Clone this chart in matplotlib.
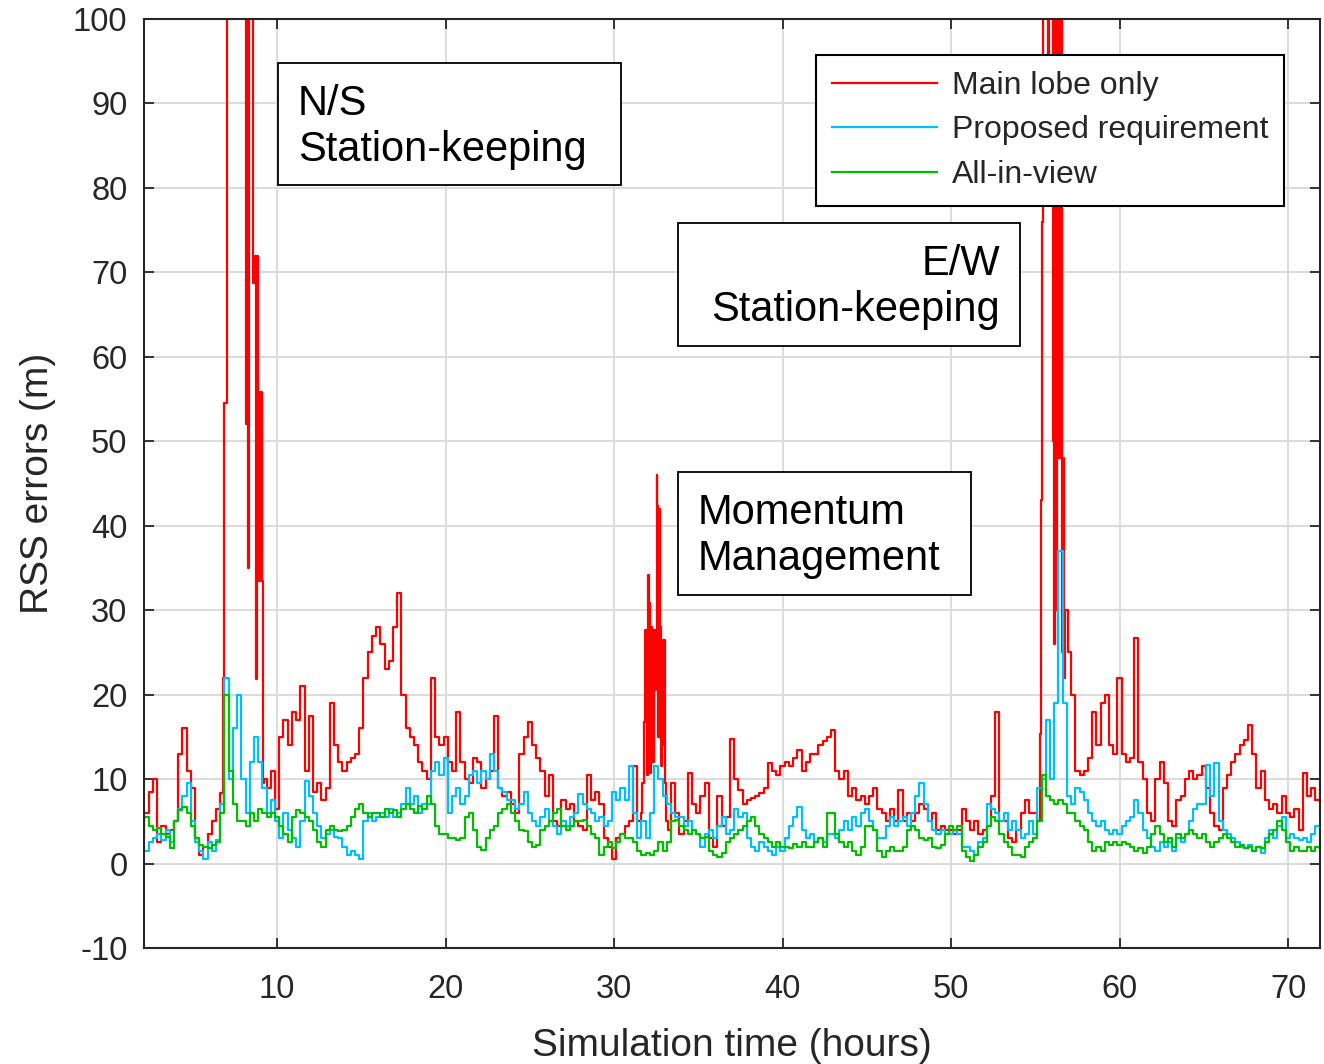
import matplotlib.pyplot as plt
from matplotlib.patches import Rectangle
import numpy as np

plt.rcParams['font.family'] = ['Liberation Sans', 'DejaVu Sans']
plt.rcParams['axes.unicode_minus'] = False

nan = np.nan

# 15-minute samples, 2 h .. 72 h
hours = np.arange(2.0, 72.01, 0.25)

# Main lobe only (outside the manoeuvre windows; nan = see spike arrays)
red_base = [
    3, 6, 8.5, 10,        # 2
    2.5, 4.5, 3.5, 4,     # 3
    5, 13, 16, 11,        # 4
    9, 3, 1, 2,           # 5
    3.5, 5, 6.5, 8.3,     # 6
    nan, nan, nan, nan,   # 7
    nan, nan, nan, nan,   # 8
    nan, 10, 9, 11,       # 9
    6.5, 15, 17, 14,      # 10
    18, 17, 21, 11,       # 11
    17.5, 8.5, 9.5, 7.5,  # 12
    9, 19, 14, 12,        # 13
    11, 12, 12.5, 13,     # 14
    16, 22, 25, 27,       # 15
    28, 26, 23, 24,       # 16
    28, 32, 20, 16,       # 17
    15, 14, 12, 11,       # 18
    10, 22, 15, 14,       # 19
    15, 12, 11, 18,       # 20
    12, 10, 9.5, 12.5,    # 21
    12, 9, 10, 11,        # 22
    17.5, 9, 8, 8.5,      # 23
    7, 6, 13, 15,         # 24
    16.8, 14, 12.5, 11,   # 25
    8, 10.5, 5, 4.5,      # 26
    7.5, 6.5, 7, 5,       # 27
    4.5, 4, 10.5, 7.5,    # 28
    8.5, 7, 3, 2,         # 29
    0.5, 3, 3.5, 4.5,     # 30
    5, 11.5, 5, nan,      # 31
    nan, nan, nan, nan,   # 32
    nan, 4, 9.5, 6,       # 33
    3.5, 5, 10.7, 7,      # 34
    6, 8, 9.5, 3,         # 35
    2, 8, 4.5, 5.5,       # 36
    14.8, 10, 8.7, 7,     # 37
    7.5, 7.8, 8, 8.3,     # 38
    9, 11.9, 11, 10.5,    # 39
    11.5, 12, 11.5, 12.5, # 40
    13.4, 11, 12, 13,     # 41
    13, 14, 14.5, 15,     # 42
    15.8, 11, 10, 11,     # 43
    8, 9, 7.5, 8,         # 44
    7, 8, 9, 6.5,         # 45
    6, 5, 6.5, 5,         # 46
    8.7, 5, 6, 5,         # 47
    6, 7, 6.5, 5,         # 48
    6, 4, 4.5, 4,         # 49
    4, 3.5, 4, 6.5,       # 50
    5, 4, 5, 3.5,         # 51
    4, 4.5, 8, 18,        # 52
    5, 5, 3, 2.5,         # 53
    4, 6, 7.5, 6,         # 54
    6, nan, nan, nan,     # 55
    nan, nan, nan, nan,   # 56
    25, 20, 11, 10.5,     # 57
    11, 12.5, 18, 14,     # 58
    19, 20, 14, 13,       # 59
    22, 13, 12, 12.5,     # 60
    26.7, 12, 10, 6,      # 61
    5, 10, 12, 9.5,       # 62
    5, 4.5, 7.5, 8,       # 63
    10, 11, 10, 10.5,     # 64
    11.5, 9, 6, 4.5,      # 65
    4, 9, 10.5, 12,       # 66
    13, 14, 14.6, 16.4,   # 67
    13, 9, 11, 7.5,       # 68
    6.5, 7, 6, 8,         # 69
    6, 5.5, 6.5, 4,       # 70
    10.7, 8, 9, 7.5,      # 71
    9,                    # 72
]

# manoeuvre spikes of the main-lobe solution
ns_hours = [6.82, 6.86, 7.0, 7.04, 7.5, 8.1, 8.17, 8.22, 8.27, 8.32, 8.37, 8.55, 8.64,
            8.7, 8.75, 8.79, 8.83, 8.88, 8.93, 8.98, 9.03, 9.08, 9.12, 9.16, 9.2]
ns_red = [22, 54.5, 54.5, 130, 130, 130, 52, 130, 52, 35, 130, 130, 68.7,
          72, 68.7, 21.8, 72, 55.8, 33.4, 55, 34, 55.8, 33.4, 12, 9.5]

mm_hours = [31.65, 31.72, 31.78, 31.85, 31.9, 31.95, 32.0, 32.05, 32.1, 32.15, 32.2, 32.27, 32.33,
            32.4, 32.45, 32.5, 32.55, 32.6, 32.65, 32.7, 32.75, 32.8, 32.87, 32.95, 33.05, 33.12]
mm_red = [6, 9.5, 16.8, 27.6, 22, 27.6, 10.5, 34.2, 30.8, 10.7, 28, 24, 12,
          27.6, 20.5, 27, 46, 42.3, 15, 42, 28, 11.5, 14, 26.5, 9.5, 5]

ew_hours = [55.2, 55.3, 55.35, 55.42, 55.48, 55.6, 55.72, 55.78, 55.84, 55.9, 56.0, 56.06, 56.12,
            56.18, 56.24, 56.3, 56.36, 56.42, 56.48, 56.54, 56.6, 56.66, 56.72, 56.8, 56.9]
ew_red = [5, 15.4, 43, 76, 130, 130, 130, 80, 130, 130, 130, 50, 26,
          130, 30, 130, 48, 130, 48, 130, 25, 48, 22, 30, 30]

# Proposed requirement
cyan = [
    2, 1.5, 2.5, 3,       # 2
    3.5, 2.8, 4, 2.5,     # 3
    5, 6.5, 8, 9.5,       # 4
    5, 2.5, 1.5, 0.5,     # 5
    2.5, 1.5, 2.8, 7,     # 6
    22, 10, 16, 20,       # 7
    10, 6, 12, 15,        # 8
    12, 9, 6, 7.5,        # 9
    5, 3, 6, 4,           # 10
    3, 2, 5, 9.8,         # 11
    8, 6, 4.5, 3,         # 12
    3.5, 4, 3.2, 3,       # 13
    2, 1, 1.5, 1,         # 14
    0.5, 5, 6, 5,         # 15
    5.5, 6, 5.5, 6.5,     # 16
    5.5, 6, 7, 9,         # 17
    7, 8, 6, 7,           # 18
    7, 11, 12, 10.5,      # 19
    12.5, 6, 8, 9,        # 20
    7, 8, 10.5, 11,       # 21
    9.5, 11, 10, 13,      # 22
    11, 9, 8.5, 7.5,      # 23
    7.5, 6.5, 7, 8.5,     # 24
    6, 5, 4.5, 5.5,       # 25
    6.5, 5, 4.5, 3.5,     # 26
    5, 4.5, 5.5, 6,       # 27
    8.2, 7, 6.5, 6,       # 28
    5, 5.5, 4.5, 5,       # 29
    8.5, 7.5, 9, 7.5,     # 30
    11.5, 6, 3, 5,        # 31
    3, 6, 11.5, 10,       # 32
    8, 7, 6, 5.5,         # 33
    5.5, 4.5, 5, 4,       # 34
    3.5, 2, 3.5, 4,       # 35
    3, 4.5, 5.5, 3.5,     # 36
    4, 6.5, 5.5, 6,       # 37
    3, 2, 1.5, 2.5,       # 38
    2, 1.5, 1, 2,         # 39
    1.5, 3, 4.5, 5.5,     # 40
    6.7, 4, 3, 3.5,       # 41
    2.5, 3, 2.5, 3.5,     # 42
    3.5, 3, 4, 5,         # 43
    4, 5.5, 4.5, 6,       # 44
    6.5, 5, 4, 3,         # 45
    3, 4.5, 5.5, 4.5,     # 46
    5, 5.5, 4.5, 6,       # 47
    8, 9.5, 7, 5,         # 48
    4, 3.5, 4, 3.5,       # 49
    3.5, 4, 3.5, 2,       # 50
    2, 1.5, 1, 2.5,       # 51
    3, 7, 6.5, 6,         # 52
    5, 6, 4, 5,           # 53
    4, 3, 3.5, 5,         # 54
    3.5, 9, 10, 17,       # 55
    10, 19, 37, 19,       # 56
    8, 7, 9, 8.5,         # 57
    7.5, 6, 5, 4.5,       # 58
    5, 4, 3.5, 4,         # 59
    3.5, 4.5, 5, 5.5,     # 60
    7.5, 6, 4, 3,         # 61
    2, 1.5, 2.5, 2,       # 62
    2.5, 1.5, 3, 2.5,     # 63
    3.5, 5, 6.5, 7,       # 64
    7, 11.7, 8, 11.9,     # 65
    5, 4, 3.5, 3,         # 66
    2.5, 2, 1.8, 2.2,     # 67
    1.5, 2, 1.2, 3,       # 68
    4, 3, 4.5, 5.5,       # 69
    3, 3.5, 3, 2.8,       # 70
    3, 2.5, 3.5, 4.5,     # 71
    4,                    # 72
]

# All-in-view
green = [
    5, 5.5, 4.5, 4,       # 2
    4.2, 3.5, 3.2, 1.8,   # 3
    5, 6.3, 6.7, 6,       # 4
    4.5, 3, 2.2, 2,       # 5
    1.8, 2.2, 2.5, 6,     # 6
    20, 11, 7, 5,         # 7
    5, 4.5, 6, 5,         # 8
    6.5, 6, 5.5, 6,       # 9
    5.5, 4.5, 3.5, 2.5,   # 10
    5.5, 6.3, 6, 5.5,     # 11
    5, 4, 2.5, 2,         # 12
    4, 4.5, 4, 3.8,       # 13
    4, 4.5, 5.5, 6.5,     # 14
    7, 6, 5.5, 6,         # 15
    6, 5.5, 6.5, 6,       # 16
    6.3, 5.5, 6.5, 7,     # 17
    6.5, 6, 6.8, 6.5,     # 18
    8, 7, 4.5, 3.5,       # 19
    3.5, 3, 3, 2.8,       # 20
    3, 5.5, 6, 4,         # 21
    2, 1.6, 3, 4,         # 22
    4.5, 6, 6.5, 7,       # 23
    6, 5, 4, 3.8,         # 24
    2.5, 2, 2.2, 4,       # 25
    4.5, 5, 6, 6.5,       # 26
    4.5, 4, 4.5, 5,       # 27
    5, 5.2, 4.5, 3.5,     # 28
    3, 1, 2, 2.5,         # 29
    1.8, 2.5, 3.5, 3,     # 30
    3, 2.5, 1.5, 1,       # 31
    1.2, 1, 1.5, 2.5,     # 32
    1.5, 2.5, 5, 5.2,     # 33
    4.5, 4, 3.5, 4,       # 34
    3.5, 3, 3.2, 1.5,     # 35
    1, 0.8, 1.2, 2.5,     # 36
    3, 3.5, 4, 4.5,       # 37
    5, 5.5, 4.5, 3.5,     # 38
    3, 2.5, 2, 2.5,       # 39
    2, 2, 1.8, 2.3,       # 40
    2, 2.5, 2, 2,         # 41
    2.5, 3, 2, 6,         # 42
    6, 3.5, 2.5, 2,       # 43
    2.5, 1.5, 1, 2,       # 44
    4.5, 4.5, 4, 1.5,     # 45
    0.8, 1.5, 2, 1.5,     # 46
    1.5, 2, 4, 4.5,       # 47
    4, 3, 2.8, 3,         # 48
    2, 1.8, 2.2, 3.5,     # 49
    4.5, 4, 4.5, 1.5,     # 50
    0.8, 0.3, 1, 2,       # 51
    2.5, 4.5, 5.5, 5,     # 52
    3.5, 2.5, 2, 1,       # 53
    1, 0.8, 2, 2.5,       # 54
    3, 5, 10.5, 8,        # 55
    7.5, 7, 7.5, 7,       # 56
    6, 6, 5, 4.5,         # 57
    4, 2.5, 1.5, 2,       # 58
    1.5, 2.5, 2.2, 2.5,   # 59
    2.2, 2.5, 2.3, 2,     # 60
    1.5, 1.8, 1.2, 2,     # 61
    3.5, 4.5, 3.5, 2.5,   # 62
    3, 2, 3.5, 3,         # 63
    3.5, 4, 3.5, 3,       # 64
    3.5, 2.5, 2, 2.5,     # 65
    3, 3.5, 3, 2.5,       # 66
    2, 2.2, 1.8, 2,       # 67
    1.5, 2, 1.8, 2.5,     # 68
    3.5, 4, 5, 4,         # 69
    2.5, 1.5, 2, 1.5,     # 70
    1.5, 2, 1.5, 2,       # 71
    1.5,                  # 72
]

x_ticks = [10, 20, 30, 40, 50, 60, 70]
y_ticks = [-10, 0, 10, 20, 30, 40, 50, 60, 70, 80, 90, 100]
series_labels = ['Main lobe only', 'Proposed requirement', 'All-in-view']

# merge the base red samples with the spike samples
red_base = np.array(red_base, dtype=float)
keep = ~np.isnan(red_base)
red_t = np.concatenate([hours[keep], ns_hours, mm_hours, ew_hours])
red_v = np.concatenate([red_base[keep], ns_red, mm_red, ew_red])
order = np.argsort(red_t)

txt = '#262626'
fig = plt.figure(figsize=(13.24, 10.64), dpi=100)
ax = fig.add_axes([0.1088, 0.1090, 0.8882, 0.8731])

ax.plot(red_t[order], red_v[order], color='#ff0000', lw=1.6, drawstyle='steps-mid',
        label=series_labels[0])
ax.plot(hours, cyan, color='#00bfff', lw=1.6, drawstyle='steps-mid', label=series_labels[1])
ax.plot(hours, green, color='#00bf00', lw=1.6, drawstyle='steps-mid', label=series_labels[2])

ax.set_xlim(2.1, 71.9)
ax.set_ylim(-10, 100)
ax.set_xticks(x_ticks)
ax.set_yticks(y_ticks)
ax.grid(True, color='#dcdcdc', lw=1.4)
ax.set_axisbelow(True)
ax.tick_params(direction='in', length=7, width=1.3, top=True, right=True,
               labelsize=23.5, colors=txt)
ax.tick_params(axis='x', pad=19)
ax.tick_params(axis='y', pad=12)
for s in ax.spines.values():
    s.set_color(txt)
    s.set_linewidth(1.5)

ax.set_xlabel('Simulation time (hours)', fontsize=28, color=txt, labelpad=16)
ax.set_ylabel('RSS errors (m)', fontsize=28, color=txt, labelpad=12)

# annotation boxes (axes fraction)
boxes = [
    ((0.1139, 0.8213), 0.2917, 0.1313, 0.131, 0.8838, 'left', 'N/S\nStation-keeping'),
    ((0.4541, 0.6480), 0.2908, 0.1324, 0.7279, 0.7115, 'right', 'E/W\nStation-keeping'),
    ((0.4541, 0.3800), 0.2491, 0.1324, 0.4711, 0.4435, 'left', 'Momentum\nManagement'),
]
for (x0, y0), w, h, tx, ty, ha, s in boxes:
    ax.add_patch(Rectangle((x0, y0), w, h, transform=ax.transAxes, facecolor='white',
                           edgecolor='black', lw=1.3, zorder=4))
    ax.text(tx, ty, s, transform=ax.transAxes, fontsize=30, ha=ha, va='center',
            multialignment=ha, color='black', zorder=5)

leg = ax.legend(loc='upper right', bbox_to_anchor=(0.9694, 0.9612), borderaxespad=0,
                fontsize=23, fancybox=False, edgecolor='black', framealpha=1,
                handlelength=3.3, handletextpad=0.45, labelspacing=0.45, borderpad=0.5)
leg.get_frame().set_linewidth(1.5)
for t in leg.get_texts():
    t.set_color(txt)

fig.savefig('out.png', dpi=100)
